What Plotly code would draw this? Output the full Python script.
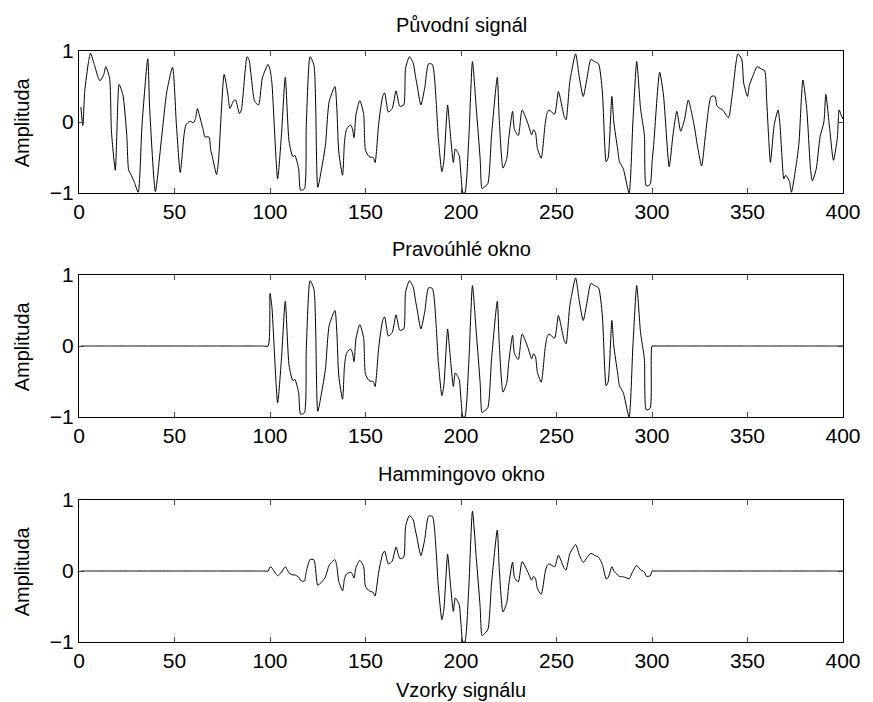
import numpy as np
import plotly.graph_objects as go

# Knot samples (sample index, amplitude)
sample_idx = [1, 2, 3, 5, 6, 8, 10, 11, 13, 14, 16, 17, 19, 20, 21, 23, 25, 26, 27, 29,
              31, 33, 36, 37, 40, 43, 46, 49, 51, 53, 55, 56, 58, 60, 61, 62, 63, 65, 66, 68,
              69, 70, 72, 73, 76, 78, 79, 81, 82, 84, 85, 88, 89, 92, 94, 96, 99, 100, 101, 104,
              106, 108, 110, 112, 113, 115, 116, 118, 119, 121, 123, 125, 127, 129, 131, 134, 135, 136, 138, 139,
              140, 142, 143, 144, 145, 147, 149, 150, 152, 154, 155, 157, 159, 160, 162, 164, 166, 168, 170, 171,
              173, 175, 176, 177, 179, 181, 183, 185, 187, 188, 190, 191, 193, 194, 196, 197, 199, 200, 201, 202,
              204, 206, 208, 210, 211, 212, 214, 216, 219, 220, 222, 224, 225, 227, 228, 230, 232, 235, 237, 238,
              239, 240, 242, 244, 245, 246, 249, 251, 254, 255, 257, 260, 262, 264, 266, 268, 270, 272, 274, 276,
              277, 279, 280, 282, 283, 285, 288, 290, 292, 294, 296, 297, 299, 300, 301, 304, 306, 309, 311, 313,
              315, 317, 319, 322, 324, 326, 328, 331, 333, 334, 335, 337, 340, 342, 345, 347, 348, 350, 351, 353,
              355, 357, 359, 360, 361, 362, 364, 366, 367, 368, 369, 370, 372, 373, 376, 377, 379, 381, 383, 384,
              386, 388, 390, 391, 393, 395, 397, 398, 399, 400]
signal = [0.21, -0.05, 0.43, 0.85, 0.97, 0.81, 0.63, 0.58, 0.67, 0.78, 0.62, -0.14, -0.68, 0.00, 0.53, 0.38, -0.18, -0.68, -0.73, -0.85,
          -0.99, -0.04, 0.89, 0.19, -0.98, -0.28, 0.43, 0.77, -0.04, -0.71, -0.18, -0.04, 0.01, -0.01, 0.05, 0.19, 0.10, -0.11, -0.21, -0.21,
          -0.40, -0.51, -0.74, -0.56, 0.67, 0.38, 0.19, 0.30, 0.31, 0.12, 0.17, 0.92, 0.88, 0.29, 0.24, 0.62, 0.81, 0.74, 0.55, -0.80,
          -0.18, 0.63, -0.28, -0.49, -0.47, -0.66, -0.96, -0.94, -0.04, 0.92, 0.80, -0.92, -0.66, -0.33, 0.29, 0.50, 0.19, -0.42, -0.75, -0.28,
          -0.11, -0.04, -0.08, -0.22, 0.10, 0.30, 0.12, -0.40, -0.49, -0.50, -0.57, 0.00, 0.36, 0.41, 0.14, 0.19, 0.44, 0.22, 0.24, 0.76,
          0.92, 0.83, 0.67, 0.52, 0.24, 0.48, 0.82, 0.81, 0.29, -0.18, -0.70, -0.56, 0.24, -0.04, -0.57, -0.38, -0.47, -0.75, -1.00, -1.00,
          -0.28, 0.85, 0.19, -0.51, -0.94, -0.92, -0.87, -0.18, 0.63, 0.05, -0.65, -0.51, -0.23, 0.15, -0.11, -0.19, 0.17, -0.02, -0.18, -0.11,
          -0.15, -0.37, -0.51, -0.04, 0.12, 0.17, 0.11, 0.43, 0.08, 0.03, 0.57, 0.96, 0.62, 0.36, 0.62, 0.88, 0.85, 0.82, 0.43, -0.56,
          -0.51, 0.36, 0.00, -0.38, -0.56, -0.66, -1.00, 0.00, 0.85, 0.19, -0.18, -0.90, -0.88, -0.58, -0.28, 0.70, 0.38, -0.63, -0.18, 0.15,
          -0.13, 0.03, 0.31, -0.04, -0.37, -0.62, -0.18, 0.36, 0.36, 0.23, 0.20, 0.17, 0.06, 0.38, 0.96, 0.88, 0.55, 0.36, 0.52, 0.66,
          0.78, 0.75, 0.72, 0.33, -0.18, -0.57, -0.04, 0.17, -0.04, -0.47, -0.80, -0.75, -0.84, -0.99, -0.51, -0.28, 0.59, 0.19, -0.66, -0.83,
          -0.66, -0.21, 0.00, 0.39, -0.09, -0.54, -0.23, 0.17, 0.10, 0.04]

win_start = 100
win_len = 200
titles = ["Původní signál", "Pravoúhlé okno", "Hammingovo okno"]
x_ticks = [0, 50, 100, 150, 200, 250, 300, 350, 400]
y_ticks = [-1, 0, 1]

n = np.array(sample_idx, dtype=float)
s = np.array(signal, dtype=float)
inside = (n >= win_start) & (n < win_start + win_len)
rect = np.where(inside, s, 0.0)
ham_w = 0.54 - 0.46 * np.cos(2 * np.pi * (n - win_start) / (win_len - 1))
ham = np.where(inside, s * ham_w, 0.0)
series = [s, rect, ham]

W, H = 873, 702
ml, mr, mt, mb = 79, 26, 51, 60
ph = H - mt - mb
frames = [(0, 142), (224, 366), (449, 591)]  # px from plot top
FONT = "Liberation Sans, Arial, sans-serif"
FS = 21

fig = go.Figure()
for i, ys in enumerate(series):
    k = "" if i == 0 else str(i + 1)
    fig.add_trace(go.Scatter(x=n, y=ys, mode="lines",
                             line=dict(color="black", width=1, shape="spline", smoothing=0.6),
                             xaxis="x" + k, yaxis="y" + k, showlegend=False, hoverinfo="skip"))
    top, bot = frames[i]
    dom = [1 - bot / ph, 1 - top / ph]
    fig.layout["xaxis" + k] = dict(domain=[0, 1], range=[0, 400], anchor="y" + k, tickvals=x_ticks,
                                  ticks="inside", ticklen=5, showline=True, linecolor="black", linewidth=1,
                                  mirror="ticks", showgrid=False, zeroline=False,
                                  tickfont=dict(family=FONT, size=FS, color="black"))
    fig.layout["yaxis" + k] = dict(domain=dom, range=[-1, 1], anchor="x" + k, tickvals=y_ticks,
                                  ticks="inside", ticklen=5, showline=True, linecolor="black", linewidth=1,
                                  mirror="ticks", showgrid=False, zeroline=False,
                                  tickfont=dict(family=FONT, size=FS, color="black"))
    fig.add_annotation(text=titles[i], xref="paper", yref="paper", x=0.5, y=dom[1] + 26 / ph,
                       showarrow=False, yanchor="middle", font=dict(family=FONT, size=FS - 1, color="black"))
    fig.add_annotation(text="Amplituda", xref="paper", yref="paper", x=-(ml - 22) / (W - ml - mr),
                       y=(dom[0] + dom[1]) / 2, showarrow=False, textangle=-90, xanchor="center",
                       yanchor="middle", font=dict(family=FONT, size=FS - 1, color="black"))

fig.add_annotation(text="Vzorky signálu", xref="paper", yref="paper", x=0.5, y=-48 / ph,
                   showarrow=False, yanchor="middle", font=dict(family=FONT, size=FS - 1, color="black"))

fig.update_layout(width=W, height=H, margin=dict(l=ml, r=mr, t=mt, b=mb),
                  plot_bgcolor="white", paper_bgcolor="white")
fig.write_html("out.html")
